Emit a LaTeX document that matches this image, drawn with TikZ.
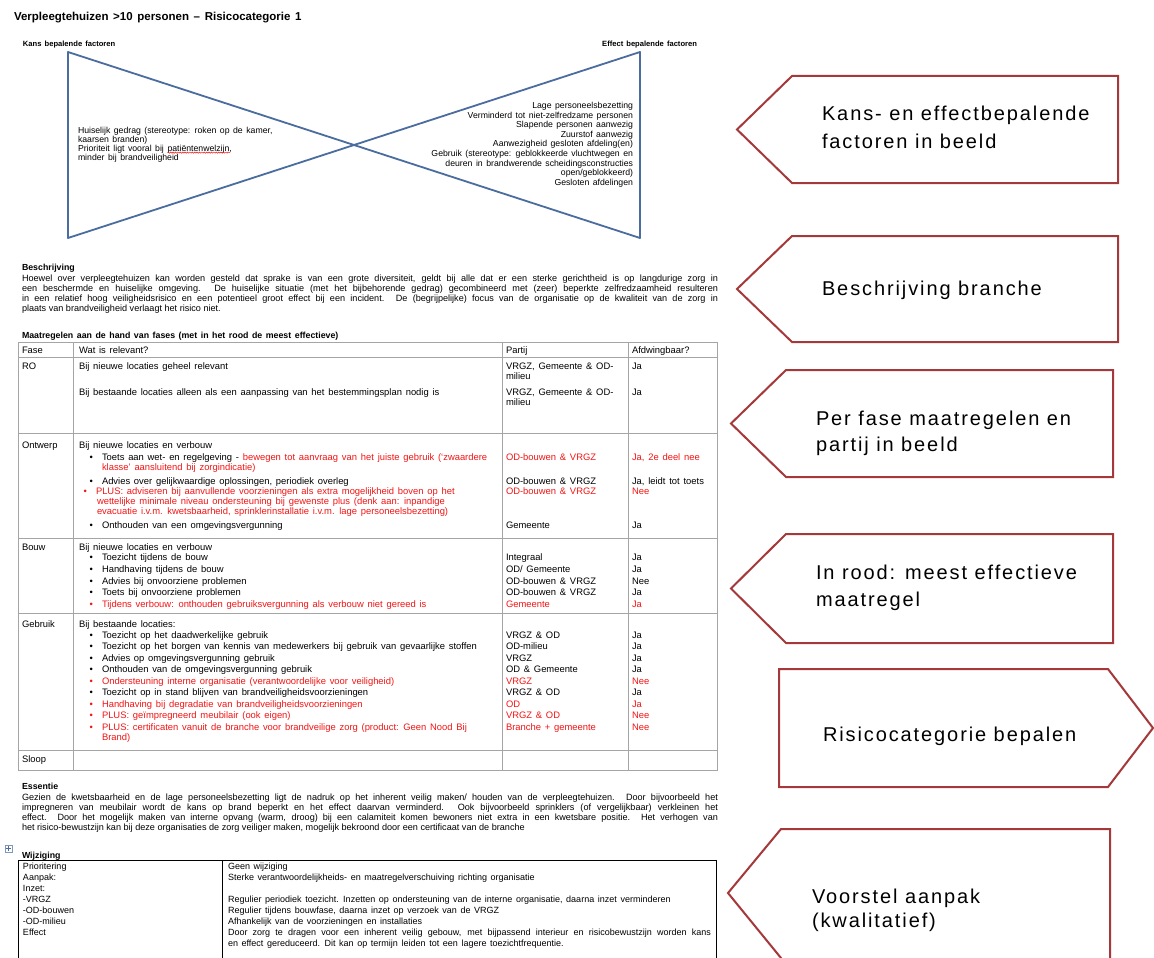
\documentclass[tikz,border=0pt]{standalone}
\usepackage{fontspec}
\usepackage{graphicx}
\setmainfont{Liberation Sans}[WordSpace=1.45]
\newfontfamily\tightfont{Liberation Sans}
\newfontfamily\calfont{Liberation Sans}[LetterSpace=9.5]
\usetikzlibrary{decorations.pathmorphing}

\definecolor{tiecol}{RGB}{75,108,158}
\definecolor{callcol}{RGB}{165,56,58}
\definecolor{gridcol}{RGB}{165,165,165}
\definecolor{alarm}{RGB}{245,20,20}

\newcommand\bodyfont{\fontsize{9.4}{11}\selectfont}
\newcommand\tiefont{\fontsize{8.7}{10}\selectfont}
\newcommand\parfont{\tightfont\fontsize{9.1}{10.3}\selectfont}
\newcommand\headfont{\fontsize{8.8}{10}\selectfont\bfseries}
\newcommand\callfont{\calfont\fontsize{20}{26}\selectfont}

% a line stretched (or squeezed) to a given width
\newsavebox\linebox
\newcommand\fitline[2]{\sbox\linebox{#2}\ifdim\wd\linebox>#1\relax\resizebox{#1}{\ht\linebox}{\usebox\linebox}\else\makebox[#1][s]{#2}\fi}

% text line helpers: every line becomes a named node t<n>
\newcounter{tl}
\newcommand\T[4][]{\stepcounter{tl}\node[txt,#1] (t\arabic{tl}) at (#2,#3) {#4};}
\newcommand\J[5][]{\stepcounter{tl}\node[txt,#1] (t\arabic{tl}) at (#2,#3) {\fitline{#4}{#5}};}
\newcommand\Bul[3][]{\T[#1]{#2}{#3}{•}}

\begin{document}
\begin{tikzpicture}[x=1pt,y=-1pt,
  txt/.style={anchor=base west,inner sep=0pt,outer sep=0pt,font=\bodyfont},
  rtxt/.style={txt,anchor=base east},
  warn/.style={text=alarm},
  tie/.style={draw=tiecol,line width=1.8pt,line cap=round},
  grid/.style={draw=gridcol,line width=1pt},
  calloutbox/.style={draw=callcol,line width=2pt,fill=white,line join=miter},
  calltxt/.style={anchor=base west,inner sep=0pt,outer sep=0pt,font=\callfont}
]
\useasboundingbox (0,0) rectangle (1154,958);
\fill[white] (0,0) rectangle (1154,958);

% ---------- title ----------
\T[font=\fontsize{11.5}{14}\selectfont\bfseries]{14}{21}{Verpleegtehuizen >10 personen – Risicocategorie 1}
\T[font=\fontsize{7.6}{9}\selectfont\bfseries]{23}{47}{Kans bepalende factoren}
\T[rtxt,font=\fontsize{7.6}{9}\selectfont\bfseries]{697}{47}{Effect bepalende factoren}

% ---------- bow tie ----------
\coordinate (btl) at (68,52);
\coordinate (bbl) at (68,238);
\coordinate (btr) at (640,52);
\coordinate (bbr) at (640,238);
\draw[tie] (btl) -- (bbl);
\draw[tie] (btr) -- (bbr);
\draw[tie] (btl) -- (bbr);
\draw[tie] (bbl) -- (btr);

\T[font=\tiefont]{78}{133}{Huiselijk gedrag (stereotype: roken op de kamer,}
\T[font=\tiefont]{78}{142}{kaarsen branden)}
\node[txt,font=\tiefont] (prio) at (78,151) {Prioriteit ligt vooral bij};
\node[txt,font=\tiefont,anchor=base west] (welzijn) at ([xshift=3.6pt]prio.base east) {patiëntenwelzijn,};
\draw[alarm,line width=0.5pt,decorate,decoration={snake,amplitude=0.6pt,segment length=2.4pt}]
  ([yshift=-1.6pt]welzijn.base west) -- ([yshift=-1.6pt,xshift=-2pt]welzijn.base east);
\T[font=\tiefont]{78}{160}{minder bij brandveiligheid}

\T[rtxt,font=\tiefont]{633}{108}{Lage personeelsbezetting}
\T[rtxt,font=\tiefont]{633}{118}{Verminderd tot niet-zelfredzame personen}
\T[rtxt,font=\tiefont]{633}{127}{Slapende personen aanwezig}
\T[rtxt,font=\tiefont]{633}{137}{Zuurstof aanwezig}
\T[rtxt,font=\tiefont]{633}{146}{Aanwezigheid gesloten afdeling(en)}
\T[rtxt,font=\tiefont]{633}{156}{Gebruik (stereotype: geblokkeerde vluchtwegen en}
\T[rtxt,font=\tiefont]{633}{166}{deuren in brandwerende scheidingsconstructies}
\T[rtxt,font=\tiefont]{633}{175}{open/geblokkeerd)}
\T[rtxt,font=\tiefont]{633}{185}{Gesloten afdelingen}

% ---------- description ----------
\T[font=\headfont]{22}{270}{Beschrijving}
\J[font=\parfont]{22}{281}{696pt}{Hoewel over verpleegtehuizen kan worden gesteld dat sprake is van een grote diversiteit, geldt bij alle dat er een sterke gerichtheid is op langdurige zorg in}
\J[font=\parfont]{22}{291.3}{696pt}{een beschermde en huiselijke omgeving. De huiselijke situatie (met het bijbehorende gedrag) gecombineerd met (zeer) beperkte zelfredzaamheid resulteren}
\J[font=\parfont]{22}{301.6}{696pt}{in een relatief hoog veiligheidsrisico en een potentieel groot effect bij een incident. De (begrijpelijke) focus van de organisatie op de kwaliteit van de zorg in}
\T[font=\parfont]{22}{311.9}{plaats van brandveiligheid verlaagt het risico niet.}

% ---------- measures table ----------
\T[font=\headfont]{22}{338}{Maatregelen aan de hand van fases (met in het rood de meest effectieve)}
\draw[grid] (18,342) rectangle (717,770);
\foreach \yy in {357,433,538,613,750} \draw[grid] (18,\yy) -- (717,\yy);
\foreach \xx in {73,502,628} \draw[grid] (\xx,342) -- (\xx,770);

\T{22}{353}{Fase}
\T{79}{353}{Wat is relevant?}
\T{506}{353}{Partij}
\T{632}{353}{Afdwingbaar?}

% RO
\T{22}{369}{RO}
\T{79}{369}{Bij nieuwe locaties geheel relevant}
\T{506}{369}{VRGZ, Gemeente \& OD-}
\T{506}{379}{milieu}
\T{632}{369}{Ja}
\T{79}{395}{Bij bestaande locaties alleen als een aanpassing van het bestemmingsplan nodig is}
\T{506}{395}{VRGZ, Gemeente \& OD-}
\T{506}{405}{milieu}
\T{632}{395}{Ja}

% Ontwerp
\T{22}{448}{Ontwerp}
\T{79}{448}{Bij nieuwe locaties en verbouw}
\Bul{89.5}{460}
\T{102}{460}{Toets aan wet- en regelgeving - \textcolor{alarm}{bewegen tot aanvraag van het juiste gebruik (‘zwaardere}}
\T[warn]{102}{470}{klasse’ aansluitend bij zorgindicatie)}
\Bul{89.5}{484}
\T{102}{484}{Advies over gelijkwaardige oplossingen, periodiek overleg}
\Bul[warn]{83.5}{494}
\T[warn]{96}{494}{PLUS: adviseren bij aanvullende voorzieningen als extra mogelijkheid boven op het}
\T[warn]{97}{504}{wettelijke minimale niveau ondersteuning bij gewenste plus (denk aan: inpandige}
\T[warn]{97}{514}{evacuatie i.v.m. kwetsbaarheid, sprinklerinstallatie i.v.m. lage personeelsbezetting)}
\Bul{89.5}{528}
\T{102}{528}{Onthouden van een omgevingsvergunning}
\T[warn]{506}{460}{OD-bouwen \& VRGZ}
\T{506}{484}{OD-bouwen \& VRGZ}
\T[warn]{506}{494}{OD-bouwen \& VRGZ}
\T{506}{528}{Gemeente}
\T[warn]{632}{460}{Ja, 2e deel nee}
\T{632}{484}{Ja, leidt tot toets}
\T[warn]{632}{494}{Nee}
\T{632}{528}{Ja}

% Bouw
\T{22}{550}{Bouw}
\T{79}{550}{Bij nieuwe locaties en verbouw}
\Bul{89.5}{560}\T{102}{560}{Toezicht tijdens de bouw}
\Bul{89.5}{572}\T{102}{572}{Handhaving tijdens de bouw}
\Bul{89.5}{584}\T{102}{584}{Advies bij onvoorziene problemen}
\Bul{89.5}{595}\T{102}{595}{Toets bij onvoorziene problemen}
\Bul[warn]{89.5}{607}\T[warn]{102}{607}{Tijdens verbouw: onthouden gebruiksvergunning als verbouw niet gereed is}
\T{506}{560}{Integraal}
\T{506}{572}{OD/ Gemeente}
\T{506}{584}{OD-bouwen \& VRGZ}
\T{506}{595}{OD-bouwen \& VRGZ}
\T[warn]{506}{607}{Gemeente}
\T{632}{560}{Ja}
\T{632}{572}{Ja}
\T{632}{584}{Nee}
\T{632}{595}{Ja}
\T[warn]{632}{607}{Ja}

% Gebruik
\T{22}{627}{Gebruik}
\T{79}{627}{Bij bestaande locaties:}
\Bul{89.5}{638}\T{102}{638}{Toezicht op het daadwerkelijke gebruik}
\Bul{89.5}{649}\T{102}{649}{Toezicht op het borgen van kennis van medewerkers bij gebruik van gevaarlijke stoffen}
\Bul{89.5}{661}\T{102}{661}{Advies op omgevingsvergunning gebruik}
\Bul{89.5}{672}\T{102}{672}{Onthouden van de omgevingsvergunning gebruik}
\Bul[warn]{89.5}{684}\T[warn]{102}{684}{Ondersteuning interne organisatie (verantwoordelijke voor veiligheid)}
\Bul{89.5}{695}\T{102}{695}{Toezicht op in stand blijven van brandveiligheidsvoorzieningen}
\Bul[warn]{89.5}{707}\T[warn]{102}{707}{Handhaving bij degradatie van brandveiligheidsvoorzieningen}
\Bul[warn]{89.5}{718}\T[warn]{102}{718}{PLUS: geïmpregneerd meubilair (ook eigen)}
\Bul[warn]{89.5}{730}\T[warn]{102}{730}{PLUS: certificaten vanuit de branche voor brandveilige zorg (product: Geen Nood Bij}
\T[warn]{102}{740}{Brand)}
\T{506}{638}{VRGZ \& OD}
\T{506}{649}{OD-milieu}
\T{506}{661}{VRGZ}
\T{506}{672}{OD \& Gemeente}
\T[warn]{506}{684}{VRGZ}
\T{506}{695}{VRGZ \& OD}
\T[warn]{506}{707}{OD}
\T[warn]{506}{718}{VRGZ \& OD}
\T[warn]{506}{730}{Branche + gemeente}
\T{632}{638}{Ja}
\T{632}{649}{Ja}
\T{632}{661}{Ja}
\T{632}{672}{Ja}
\T[warn]{632}{684}{Nee}
\T{632}{695}{Ja}
\T[warn]{632}{707}{Ja}
\T[warn]{632}{718}{Nee}
\T[warn]{632}{730}{Nee}

% Sloop
\T{22}{762}{Sloop}

% ---------- essence ----------
\T[font=\headfont]{22}{789}{Essentie}
\J[font=\parfont]{22}{800}{696pt}{Gezien de kwetsbaarheid en de lage personeelsbezetting ligt de nadruk op het inherent veilig maken/ houden van de verpleegtehuizen. Door bijvoorbeeld het}
\J[font=\parfont]{22}{810.3}{696pt}{impregneren van meubilair wordt de kans op brand beperkt en het effect daarvan verminderd. Ook bijvoorbeeld sprinklers (of vergelijkbaar) verkleinen het}
\J[font=\parfont]{22}{820.6}{696pt}{effect. Door het mogelijk maken van interne opvang (warm, droog) bij een calamiteit komen bewoners niet extra in een kwetsbare positie. Het verhogen van}
\T[font=\parfont]{22}{830.9}{het risico-bewustzijn kan bij deze organisaties de zorg veiliger maken, mogelijk bekroond door een certificaat van de branche}

% ---------- change table ----------
\draw[draw=tiecol!70,line width=0.5pt,fill=white] (5,845) rectangle (12,852);
\draw[tiecol,line width=0.5pt] (8.5,846.2) -- (8.5,850.8) (6.2,848.5) -- (10.8,848.5);
\T[font=\headfont]{22}{858}{Wijziging}
\draw[line width=0.9pt] (18,960) -- (18,860) -- (716,860) -- (716,960);
\draw[line width=0.9pt] (222,860) -- (222,960);
\T[font=\fontsize{9}{11}\selectfont]{23}{869}{Prioritering}
\T[font=\fontsize{9}{11}\selectfont]{23}{880}{Aanpak:}
\T[font=\fontsize{9}{11}\selectfont]{23}{891}{Inzet:}
\T[font=\fontsize{9}{11}\selectfont]{23}{902}{-VRGZ}
\T[font=\fontsize{9}{11}\selectfont]{23}{913}{-OD-bouwen}
\T[font=\fontsize{9}{11}\selectfont]{23}{924}{-OD-milieu}
\T[font=\fontsize{9}{11}\selectfont]{23}{935}{Effect}
\T[font=\fontsize{9}{11}\selectfont]{228}{869}{Geen wijziging}
\T[font=\fontsize{9}{11}\selectfont]{228}{880}{Sterke verantwoordelijkheids- en maatregelverschuiving richting organisatie}
\T[font=\fontsize{9}{11}\selectfont]{228}{902}{Regulier periodiek toezicht. Inzetten op ondersteuning van de interne organisatie, daarna inzet verminderen}
\T[font=\fontsize{9}{11}\selectfont]{228}{913}{Regulier tijdens bouwfase, daarna inzet op verzoek van de VRGZ}
\T[font=\fontsize{9}{11}\selectfont]{228}{924}{Afhankelijk van de voorzieningen en installaties}
\J[font=\tightfont\fontsize{9}{11}\selectfont]{228}{935}{483pt}{Door zorg te dragen voor een inherent veilig gebouw, met bijpassend interieur en risicobewustzijn worden kans}
\T[font=\fontsize{9}{11}\selectfont]{228}{946}{en effect gereduceerd. Dit kan op termijn leiden tot een lagere toezichtfrequentie.}

% ---------- side callouts ----------
\draw[calloutbox] (792,76) -- (1118,76) -- (1118,183) -- (792,183) -- (737,129.5) -- cycle;
\node[calltxt] (k1) at (822,121) {Kans- en effectbepalende};
\node[calltxt] (k2) at (822,148) {factoren in beeld};

\draw[calloutbox] (792,236) -- (1118,236) -- (1118,342) -- (792,342) -- (737,289) -- cycle;
\node[calltxt] (b1) at (822,295) {Beschrijving branche};

\draw[calloutbox] (786,370) -- (1113,370) -- (1113,477) -- (786,477) -- (731,423.5) -- cycle;
\node[calltxt] (p1) at (816,425) {Per fase maatregelen en};
\node[calltxt] (p2) at (816,451) {partij in beeld};

\draw[calloutbox] (786,534) -- (1113,534) -- (1113,643) -- (786,643) -- (731,588.5) -- cycle;
\node[calltxt] (r1) at (816,579) {In rood: meest effectieve};
\node[calltxt] (r2) at (816,606) {maatregel};

\draw[calloutbox] (779,669) -- (1108,669) -- (1153,728) -- (1108,787) -- (779,787) -- cycle;
\node[calltxt] (c1) at (823,741) {Risicocategorie bepalen};

\draw[calloutbox] (781,962) -- (781,958) -- (728,893) -- (781,829) -- (1110,829) -- (1110,962);
\node[calltxt] (v1) at (812,903) {Voorstel aanpak};
\node[calltxt] (v2) at (812,927) {(kwalitatief)};
\end{tikzpicture}
\end{document}
